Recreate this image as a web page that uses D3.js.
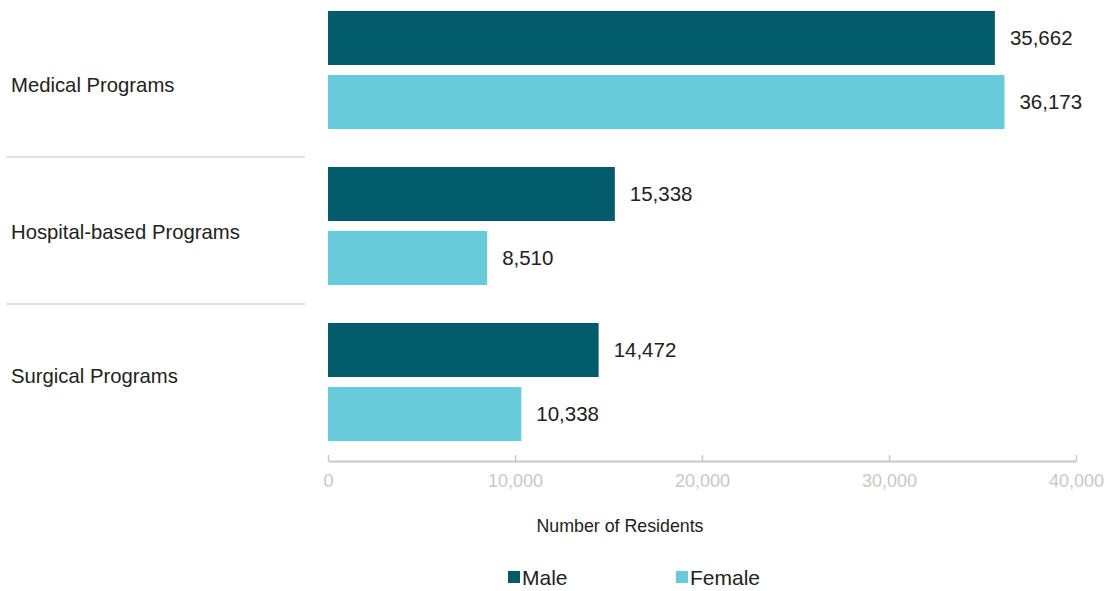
<!DOCTYPE html>
<html><head><meta charset="utf-8">
<script src="https://cdn.jsdelivr.net/npm/d3@7"></script>
<style>body{margin:0;background:#fff;font-family:"Liberation Sans",Arial,sans-serif}</style>
</head><body><svg id="c" width="1111" height="591"></svg>
<script>
const categories = ["Medical Programs", "Hospital-based Programs", "Surgical Programs"];
const series = ["Male", "Female"];
const maleValues = [35662, 15338, 14472];
const femaleValues = [36173, 8510, 10338];
const xTicks = [0, 10000, 20000, 30000, 40000];
const colors = {Male: "#025b6b", Female: "#67cbdb"};

const svg = d3.select("#c");
const x = d3.scaleLinear().domain([0, 40000]).range([328, 1076]);
const y0 = d3.scaleBand().domain(categories).range([-8, 460]).paddingInner(0).paddingOuter(0);
const y1 = d3.scaleBand().domain(series).range([19, 137]).paddingInner(0.15625).paddingOuter(0);
const labelY = [85, 232, 376];
const sepY = [157, 304];

const data = categories.map((c, i) => ({cat: c, vals: [{s: "Male", v: maleValues[i]}, {s: "Female", v: femaleValues[i]}]}));

// separators
svg.selectAll("line.sep").data(sepY).enter().append("line")
  .attr("x1", 6).attr("x2", 305).attr("y1", d => d).attr("y2", d => d)
  .attr("stroke", "#d9d9d9").attr("stroke-width", 1.5);

// category labels
svg.selectAll("text.cat").data(categories).enter().append("text")
  .attr("x", 11).attr("y", (d, i) => labelY[i]).attr("dy", "0.35em")
  .attr("font-size", 20.3).attr("fill", "#222").text(d => d);

const g = svg.selectAll("g.grp").data(data).enter().append("g")
  .attr("transform", d => `translate(0,${y0(d.cat)})`);
g.selectAll("rect").data(d => d.vals).enter().append("rect")
  .attr("x", x(0)).attr("y", d => y1(d.s)).attr("width", d => x(d.v) - x(0))
  .attr("height", y1.bandwidth()).attr("fill", d => colors[d.s]);
g.selectAll("text").data(d => d.vals).enter().append("text")
  .attr("x", d => x(d.v) + 15).attr("y", d => y1(d.s) + y1.bandwidth() / 2).attr("dy", "0.36em")
  .attr("font-size", 20.5).attr("fill", "#222").text(d => d3.format(",")(d.v));

// x axis
const axis = d3.axisBottom(x).tickValues(xTicks).tickFormat(d3.format(",")).tickSize(0).tickPadding(13);
const ag = svg.append("g").attr("transform", "translate(0,461)").call(axis);
ag.select(".domain").attr("stroke", "#c8c8c8").attr("stroke-width", 2);
ag.selectAll(".tick text").attr("fill", "#c8c8c8").attr("font-size", 18).attr("font-family", "Liberation Sans, Arial, sans-serif");
ag.selectAll(".tick").append("line").attr("y1", 0).attr("y2", -6).attr("stroke", "#c8c8c8").attr("stroke-width", 1.5);

svg.append("text").attr("x", 620).attr("y", 526).attr("dy", "0.35em").attr("text-anchor", "middle")
  .attr("font-size", 17.8).attr("fill", "#222").text("Number of Residents");

// legend
const legendX = [508, 676];
const lg = svg.selectAll("g.leg").data(series).enter().append("g")
  .attr("transform", (d, i) => `translate(${legendX[i]},571)`);
lg.append("rect").attr("width", 12).attr("height", 12).attr("fill", d => colors[d]);
lg.append("text").attr("x", 14).attr("y", 6).attr("dy", "0.36em").attr("font-size", 21).attr("fill", "#222").text(d => d);
</script></body></html>
